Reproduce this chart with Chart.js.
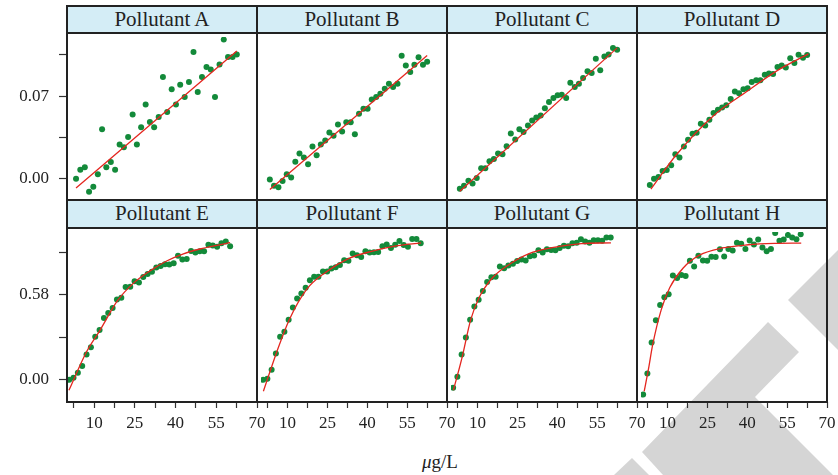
<!DOCTYPE html>
<html>
<head>
<meta charset="utf-8">
<script src="https://cdn.jsdelivr.net/npm/chart.js@4.4.1/dist/chart.umd.min.js"></script>
<style>
  body { margin: 0; background: #fff; }
  #page { position: relative; width: 838px; height: 475px; overflow: hidden; font-family: "Liberation Serif", serif; color: #222; }
  .wm { position: absolute; left: 0; top: 0; }
  .cv { position: absolute; }
  .strip { position: absolute; box-sizing: border-box; border: 2px solid #222; background: #d4edf6; text-align: center; font-size: 21px; }
  .frame { position: absolute; box-sizing: border-box; border: 2px solid #222; pointer-events: none; }
  #xlabel { position: absolute; left: 340px; width: 200px; top: 451px; text-align: center; font-size: 19px; line-height: 22px; }
</style>
</head>
<body>
<div id="page">
  <svg class="wm" width="838" height="475">
    <polygon points="642,452 768,322 799,352 755,397 833,475 663,475" fill="#d5d5d5"/>
    <polygon points="614,475 632,458 649,475" fill="#d5d5d5"/>
    <polygon points="788,300 838,250 838,350" fill="#d5d5d5"/>
  </svg>
  <div id="xlabel"><i>μ</i>g/L</div>
</div>
<script>
// x positions (µg/L)
const xTop = [3.4, 5.0, 6.7, 8.3, 9.9, 11.6, 13.2, 14.8, 16.5, 18.1, 19.8, 21.4, 23.0, 24.7, 26.3, 27.9, 29.6, 31.2, 32.8,
  34.5, 36.1, 37.7, 39.4, 41.0, 42.6, 44.3, 45.9, 47.6, 49.2, 50.8, 52.5, 54.1, 55.7, 57.4, 59.0, 60.6, 62.3, 63.9];
const xBottom = [0.8, 2.4, 4.0, 5.6, 7.2, 8.8, 10.4, 12.0, 13.6, 15.2, 16.8, 18.4, 20.0, 21.6, 23.3, 24.9, 26.5, 28.1, 29.7,
  31.3, 32.9, 34.5, 36.1, 37.7, 39.3, 40.9, 42.5, 44.1, 45.7, 47.3, 48.9, 50.5, 52.1, 53.7, 55.3, 56.9, 58.5, 60.1];

// measured values
const pollutantA = [0.000, 0.0078, 0.0099, -0.0110, -0.0067, 0.0038, 0.0419, 0.0099, 0.0142, 0.0078, 0.0290, 0.0268, 0.0354,
  0.0545, 0.0290, 0.0437, 0.0628, 0.0480, 0.0437, 0.0523, 0.0861, 0.0566, 0.0757, 0.0628, 0.0797, 0.0692, 0.0819, 0.1073,
  0.0735, 0.0861, 0.0947, 0.0926, 0.0692, 0.0968, 0.1178, 0.1030, 0.1030, 0.1052];
const pollutantB = [-0.0005, -0.0059, -0.0072, -0.0019, 0.0038, 0.0011, 0.0145, 0.0215, 0.0180, 0.0123, 0.0274, 0.0199, 0.0290,
  0.0325, 0.0392, 0.0365, 0.0459, 0.0400, 0.0478, 0.0478, 0.0378, 0.0550, 0.0593, 0.0593, 0.0671, 0.0692, 0.0719, 0.0762,
  0.0805, 0.0778, 0.0805, 0.1041, 0.0958, 0.0904, 0.0966, 0.1028, 0.0966, 0.0990];
const pollutantC = [-0.0083, -0.0059, -0.0016, -0.0040, 0.0008, 0.0089, 0.0089, 0.0148, 0.0169, 0.0215, 0.0209, 0.0276, 0.0384,
  0.0333, 0.0419, 0.0397, 0.0451, 0.0494, 0.0518, 0.0537, 0.0598, 0.0650, 0.0684, 0.0708, 0.0711, 0.0684, 0.0813, 0.0778,
  0.0805, 0.0853, 0.0910, 0.0896, 0.1017, 0.0918, 0.1036, 0.1052, 0.1108, 0.1092];
const pollutantD = [-0.0051, 0.0000, 0.0016, 0.0067, 0.0075, 0.0115, 0.0209, 0.0180, 0.0274, 0.0330, 0.0381, 0.0389, 0.0467,
  0.0451, 0.0499, 0.0558, 0.0585, 0.0604, 0.0622, 0.0676, 0.0738, 0.0725, 0.0759, 0.0767, 0.0819, 0.0835, 0.0835, 0.0880,
  0.0891, 0.0888, 0.0947, 0.0958, 0.0942, 0.1020, 0.0980, 0.1049, 0.1025, 0.1047];
const pollutantE = [0.000, 0.015, 0.049, 0.095, 0.173, 0.222, 0.295, 0.340, 0.422, 0.457, 0.491, 0.549, 0.560, 0.633, 0.635,
  0.673, 0.664, 0.702, 0.722, 0.737, 0.767, 0.777, 0.789, 0.787, 0.795, 0.847, 0.822, 0.824, 0.880, 0.869, 0.877, 0.877,
  0.922, 0.917, 0.909, 0.933, 0.944, 0.911];
const pollutantF = [0.000, 0.007, 0.069, 0.180, 0.295, 0.329, 0.411, 0.493, 0.555, 0.589, 0.629, 0.680, 0.704, 0.704, 0.740,
  0.740, 0.760, 0.769, 0.784, 0.817, 0.813, 0.862, 0.851, 0.838, 0.877, 0.869, 0.871, 0.873, 0.911, 0.924, 0.900, 0.922,
  0.947, 0.920, 0.909, 0.962, 0.962, 0.933];
const pollutantG = [-0.053, 0.022, 0.173, 0.289, 0.411, 0.500, 0.547, 0.607, 0.667, 0.700, 0.704, 0.773, 0.762, 0.780, 0.793,
  0.811, 0.822, 0.815, 0.844, 0.849, 0.884, 0.869, 0.891, 0.887, 0.884, 0.900, 0.915, 0.911, 0.933, 0.935, 0.960, 0.944,
  0.935, 0.953, 0.953, 0.949, 0.971, 0.971];
const pollutantH = [-0.100, 0.044, 0.255, 0.407, 0.511, 0.564, 0.584, 0.713, 0.695, 0.715, 0.709, 0.813, 0.773, 0.847, 0.815,
  0.813, 0.840, 0.838, 0.891, 0.842, 0.893, 0.882, 0.935, 0.929, 0.893, 0.951, 0.924, 0.958, 0.904, 0.877, 0.893, 1.002,
  0.949, 0.958, 0.989, 0.971, 0.960, 0.993];

// fitted curves
const fitXA = [3.4, 63.9], fitA = [-0.0078, 0.1081];
const fitXB = [3.4, 63.9], fitB = [-0.0091, 0.1044];
const fitXC = [3.4, 63.9], fitC = [-0.0105, 0.1108];
const fitXD = [3.8, 13.6, 28.1, 40.4, 52.7, 64.4], fitD = [-0.0086, 0.0204, 0.0539, 0.0735, 0.0920, 0.1057];
const fitXE = [0.7, 7.3, 12.2, 18.6, 24.5, 30.6, 36.7, 42.9, 49.0, 55.2, 60.1];
const fitE = [-0.071, 0.195, 0.340, 0.540, 0.660, 0.744, 0.811, 0.860, 0.893, 0.918, 0.936];
const fitXF = [0.9, 5.8, 10.6, 17.1, 24.4, 33.1, 41.6, 50.3, 60.2];
const fitF = [-0.078, 0.184, 0.409, 0.616, 0.735, 0.829, 0.877, 0.913, 0.935];
const fitXG = [0.9, 4.2, 7.4, 10.6, 15.8, 22.0, 29.4, 38.0, 49.0, 60.2];
const fitG = [-0.071, 0.155, 0.409, 0.562, 0.700, 0.789, 0.862, 0.902, 0.929, 0.935];
const fitXH = [1.2, 2.8, 4.4, 7.6, 10.8, 15.8, 22.0, 30.6, 40.4, 50.3, 60.3];
const fitH = [-0.078, 0.073, 0.240, 0.478, 0.629, 0.762, 0.851, 0.900, 0.922, 0.931, 0.933];

// axes
const xTicks = [2.5, 10, 17.5, 25, 32.5, 40, 47.5, 55, 62.5, 70];
const xTickLabels = [10, 25, 40, 55, 70];
const topTicks = [0, 0.035, 0.07, 0.105];
const topTickLabels = [0, 0.07];
const bottomTicks = [0, 0.29, 0.58, 0.87];
const bottomTickLabels = [0, 0.58];

const names = ["Pollutant A", "Pollutant B", "Pollutant C", "Pollutant D",
  "Pollutant E", "Pollutant F", "Pollutant G", "Pollutant H"];
const values = [pollutantA, pollutantB, pollutantC, pollutantD, pollutantE, pollutantF, pollutantG, pollutantH];
const fitXs = [fitXA, fitXB, fitXC, fitXD, fitXE, fitXF, fitXG, fitXH];
const fitYs = [fitA, fitB, fitC, fitD, fitE, fitF, fitG, fitH];

Chart.defaults.font.family = '"Liberation Serif", serif';
Chart.defaults.font.size = 17;
Chart.defaults.color = "#222";

const page = document.getElementById("page");
const PLOT_L = 67, PANEL_W = 190;
const rows = [
  { top: 33, h: 167, stripTop: 5, ticks: topTicks, labels: topTickLabels, min: -0.0145, max: 0.12, xs: xTop },
  { top: 228, h: 174, stripTop: 199, ticks: bottomTicks, labels: bottomTickLabels, min: -0.151, max: 1.009, xs: xBottom },
];

names.forEach((name, i) => {
  const r = i < 4 ? 0 : 1, c = i % 4;
  const row = rows[r];
  const left = PLOT_L + PANEL_W * c;
  const firstCol = c === 0;
  const bottomRow = r === 1;

  const strip = document.createElement("div");
  strip.className = "strip";
  Object.assign(strip.style, { left: (left - 1) + "px", top: row.stripTop + "px", width: (PANEL_W + 2) + "px",
    height: (r === 0 ? 29 : 30) + "px", lineHeight: (r === 0 ? 24 : 25) + "px" });
  strip.textContent = name;
  page.appendChild(strip);

  const axisW = firstCol ? PLOT_L : 0;
  const axisH = bottomRow ? 40 : 0;
  const padR = bottomRow ? 12 : 0;
  const wrap = document.createElement("div");
  wrap.className = "cv";
  const cw = axisW + PANEL_W + padR, ch = row.h + axisH;
  Object.assign(wrap.style, { left: (left - axisW) + "px", top: row.top + "px", width: cw + "px", height: ch + "px" });
  const canvas = document.createElement("canvas");
  wrap.appendChild(canvas);
  page.appendChild(wrap);

  const frame = document.createElement("div");
  frame.className = "frame";
  Object.assign(frame.style, { left: (left - 1) + "px", top: (row.top - 1) + "px", width: (PANEL_W + 2) + "px", height: (row.h + 2) + "px" });
  page.appendChild(frame);

  new Chart(canvas, {
    type: "scatter",
    data: {
      datasets: [
        {
          data: fitXs[i].map((x, k) => ({ x, y: fitYs[i][k] })),
          showLine: true,
          borderColor: "#e4261f",
          borderWidth: 1.3,
          pointRadius: 0,
          cubicInterpolationMode: "monotone",
        },
        {
          data: row.xs.map((x, k) => ({ x, y: values[i][k] })),
          backgroundColor: "#138a3a",
          borderWidth: 0,
          pointRadius: 3,
        },
      ],
    },
    options: {
      responsive: true,
      maintainAspectRatio: false,
      animation: false,
      layout: { padding: { left: 0, top: 0, right: padR, bottom: 0 } },
      plugins: { legend: { display: false }, tooltip: { enabled: false } },
      scales: {
        x: {
          type: "linear",
          min: 0,
          max: 70,
          display: bottomRow,
          afterBuildTicks: (s) => { s.ticks = xTicks.map((v) => ({ value: v })); },
          afterFit: (s) => { s.height = axisH; s.paddingLeft = 0; s.paddingRight = 0; },
          border: { display: false },
          grid: { drawOnChartArea: false, tickLength: 6, tickColor: "#333", tickWidth: 1.2 },
          ticks: {
            autoSkip: false,
            maxRotation: 0,
            padding: 5,
            callback: (v) => (xTickLabels.includes(v) ? String(v) : ""),
          },
        },
        y: {
          min: row.min,
          max: row.max,
          display: firstCol,
          afterBuildTicks: (s) => { s.ticks = row.ticks.map((v) => ({ value: v })); },
          afterFit: (s) => { s.width = axisW; s.paddingTop = 0; s.paddingBottom = 0; },
          border: { display: false },
          grid: { drawOnChartArea: false, tickLength: 8, tickColor: "#333", tickWidth: 1.2 },
          ticks: {
            autoSkip: false,
            padding: 10,
            callback: (v) => (row.labels.includes(v) ? v.toFixed(2) : ""),
          },
        },
      },
    },
  });
});
</script>
</body>
</html>
